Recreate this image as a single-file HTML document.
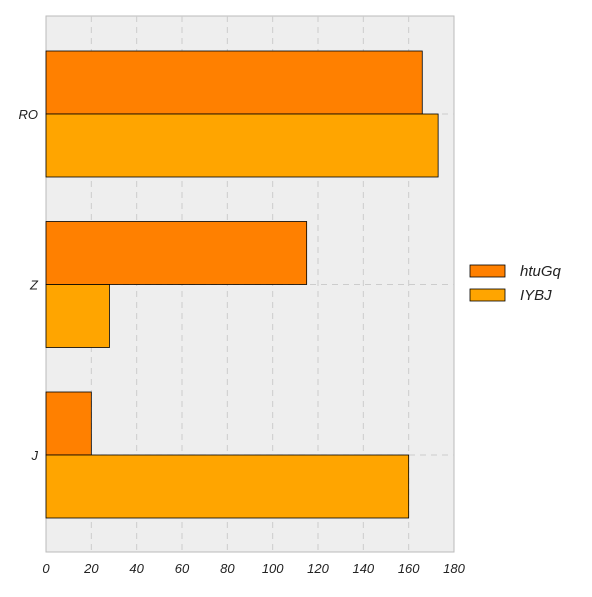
<!DOCTYPE html>
<html><head><meta charset="utf-8"><style>
html,body{margin:0;padding:0;background:#fff;}
text{font-family:"Liberation Sans",sans-serif;font-style:italic;}
</style></head><body>
<svg id="chart" width="592" height="592" xmlns="http://www.w3.org/2000/svg">
<rect x="46" y="16" width="408" height="536" fill="#eeeeee" stroke="#bbbbbb"/>
<g id="grid"></g><g id="bars"></g><g id="axes"></g>
<g>
<rect x="470" y="265" width="35" height="12" fill="#ff8000" stroke="#000" stroke-width="0.8"/>
<text x="520" y="276" font-size="15" fill="#222">htuGq</text>
<rect x="470" y="289" width="35" height="12" fill="#ffa500" stroke="#000" stroke-width="0.8"/>
<text x="520" y="300" font-size="15" fill="#222">IYBJ</text>
</g>
</svg>
<script>
const categories=["RO","Z","J"];
const seriesHtuGq=[166,115,20];
const seriesIYBJ=[173,28,160];
const xTicks=[0,20,40,60,80,100,120,140,160,180];
const NS="http://www.w3.org/2000/svg";
const x0=46,x1=454,xmax=180;
const xs=v=>x0+(x1-x0)*v/xmax;
const ys=i=>114+i*170.5;
const bh=63;
function mk(tag,attrs,parent){const e=document.createElementNS(NS,tag);for(const k in attrs)e.setAttribute(k,attrs[k]);document.getElementById(parent).appendChild(e);return e;}
xTicks.forEach(t=>{
 if(t>0&&t<xmax){const l=mk('line',{x1:xs(t),x2:xs(t),y1:16,y2:552,stroke:'#cccccc','stroke-dasharray':'6,5'},'grid');
 
 }
 const tx=mk('text',{x:xs(t),y:573,'font-size':13,'text-anchor':'middle',fill:'#222'},'axes');
 tx.textContent=t;
 
 
});
categories.forEach((c,i)=>{
 const g=mk('line',{x1:46,x2:454,y1:ys(i),y2:ys(i),stroke:'#cccccc','stroke-dasharray':'6,5'},'grid');
 
 
 const tx=mk('text',{x:38,y:ys(i)+5,'font-size':13,'text-anchor':'end',fill:'#222'},'axes');
 tx.textContent=c;
 
 
 const a=mk('rect',{x:x0,y:ys(i)-bh,width:xs(seriesHtuGq[i])-x0,height:bh,fill:'#ff8000',stroke:'#000','stroke-width':0.8},'bars');
 
 
 const b=mk('rect',{x:x0,y:ys(i),width:xs(seriesIYBJ[i])-x0,height:bh,fill:'#ffa500',stroke:'#000','stroke-width':0.8},'bars');
 
 
});
</script>
</body></html>
